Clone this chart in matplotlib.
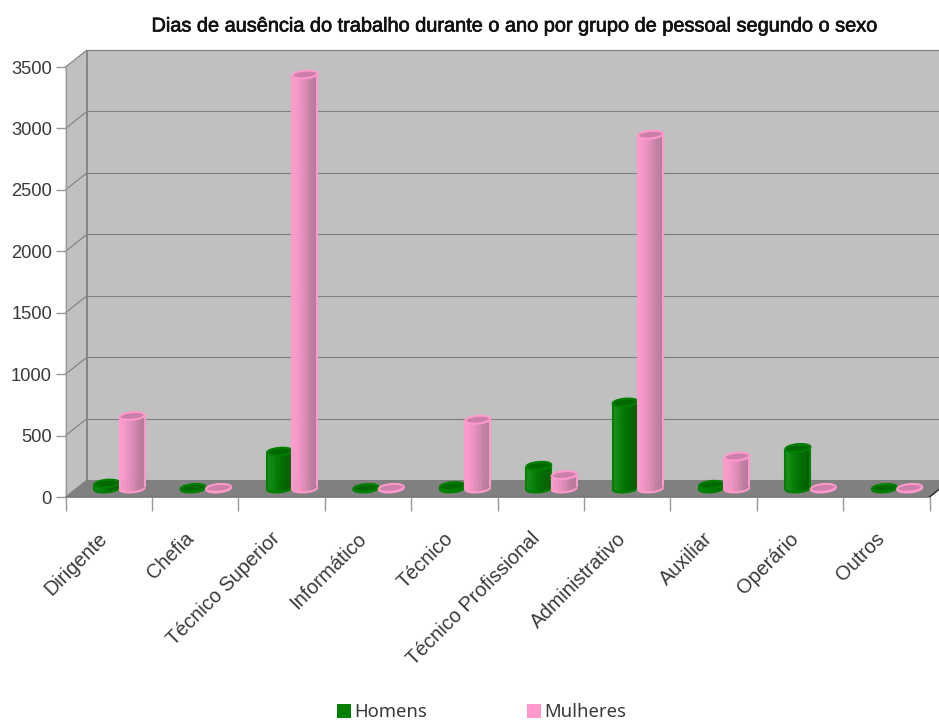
import numpy as np
import matplotlib
matplotlib.use("Agg")
import matplotlib.pyplot as plt
import matplotlib.patheffects as pe
from matplotlib.colors import to_rgb
from matplotlib.patches import Ellipse, Polygon, Rectangle
from matplotlib.transforms import IdentityTransform

categories = ["Dirigente", "Chefia", "Técnico Superior", "Informático", "Técnico",
              "Técnico Profissional", "Administrativo", "Auxiliar", "Operário", "Outros"]
homens = [40, 5, 300, 5, 20, 185, 700, 30, 330, 5]
mulheres = [590, 5, 3370, 5, 560, 110, 2880, 260, 5, 5]
y_ticks = [0, 500, 1000, 1500, 2000, 2500, 3000, 3500]

W, H = 939, 720
DEPTH_X, DEPTH_Y = 21.5, 17
GRID = "#808080"
TEXT = "#3a3a3a"

fig = plt.figure(figsize=(W / 100, H / 100), dpi=100)
ax = fig.add_axes([65.5 / W, 1 - 497 / H, 864 / W, 430 / H])
ax.set_xlim(0, len(categories))
ax.set_ylim(0, 3500)
for s in ax.spines.values():
    s.set_visible(False)
ax.patch.set_visible(False)
ident = IdentityTransform()


def to_px(x, y):
    return ax.transData.transform((x, y))


def add_shape(patch, z):
    patch.set_transform(ident)
    patch.set_clip_on(False)
    patch.set_zorder(z)
    ax.add_artist(patch)


def add_line(xs, ys, color=GRID, lw=1.0, z=2):
    ax.plot(xs, ys, color=color, lw=lw, transform=ident, clip_on=False,
            zorder=z, solid_capstyle="butt")


# walls and floor
x0, y0 = to_px(0, 0)
x1, y1 = to_px(len(categories), 3500)
add_shape(Polygon([(x0, y0), (x0 + DEPTH_X, y0 + DEPTH_Y), (x1 + DEPTH_X, y0 + DEPTH_Y),
                   (x1 + DEPTH_X, y1 + DEPTH_Y), (x0 + DEPTH_X, y1 + DEPTH_Y)],
                  facecolor="#c0c0c0", edgecolor="none"), 1)
add_shape(Polygon([(x0, y0), (x0 + DEPTH_X, y0 + DEPTH_Y), (x0 + DEPTH_X, y1 + DEPTH_Y), (x0, y1)],
                  facecolor="#c0c0c0", edgecolor="none"), 1)
add_shape(Polygon([(x0, y0), (x1, y0), (x1 + DEPTH_X, y0 + DEPTH_Y), (x0 + DEPTH_X, y0 + DEPTH_Y)],
                  facecolor="#808080", edgecolor="none"), 1)

for v in y_ticks:
    _, py = to_px(0, v)
    add_line([x0 + DEPTH_X, x1 + DEPTH_X], [py + DEPTH_Y, py + DEPTH_Y], lw=0.8)
    add_line([x0, x0 + DEPTH_X], [py, py + DEPTH_Y], lw=0.8)
add_line([x0, x0], [y0, y1], color="#999999", lw=0.9)
add_line([x0 + DEPTH_X, x0 + DEPTH_X], [y0 + DEPTH_Y, y1 + DEPTH_Y], lw=1.3)
add_line([x0, x1], [y0, y0], color="#777777", lw=1.2, z=3)
add_line([x1, x1 + DEPTH_X], [y0, y0 + DEPTH_Y], color="#222222", lw=1.0, z=3)


def shade(stops, u):
    rgb = np.array([to_rgb(c) for c in stops])
    pos = np.linspace(0, 1, len(stops))
    return tuple(np.interp(u, pos, rgb[:, i]) for i in range(3))


def draw_cylinder(center, value, stops, edge, top_fill, z):
    cx, base = to_px(center, 0)
    _, top = to_px(center, value)
    cx += DEPTH_X / 2
    base += DEPTH_Y / 2
    top += DEPTH_Y / 2
    a, b, tilt = 12.5, 3.8, np.radians(5)
    ts = np.linspace(np.pi, 2 * np.pi, 25)
    ex = a * np.cos(ts) * np.cos(tilt) - b * np.sin(ts) * np.sin(tilt)
    ey = a * np.cos(ts) * np.sin(tilt) + b * np.sin(ts) * np.cos(tilt)
    for i in range(len(ts) - 1):
        u = (ex[i] + ex[i + 1]) / (4 * a) + 0.5
        col = shade(stops, u)
        quad = [(cx + ex[i], base + ey[i]), (cx + ex[i + 1], base + ey[i + 1]),
                (cx + ex[i + 1], top + ey[i + 1]), (cx + ex[i], top + ey[i])]
        add_shape(Polygon(quad, facecolor=col, edgecolor=col, lw=0.4), z)
    add_line(cx + ex, base + ey, color=edge, lw=1.5, z=z + 0.1)
    add_line([cx + ex[0], cx + ex[0]], [base + ey[0], top + ey[0]], color=edge, lw=1.5, z=z + 0.1)
    add_line([cx + ex[-1], cx + ex[-1]], [base + ey[-1], top + ey[-1]], color=edge, lw=1.5, z=z + 0.1)
    add_shape(Ellipse((cx, top), 2 * a, 2 * b, angle=5, facecolor=top_fill, edgecolor=edge, lw=1.5),
              z + 0.2)


pink_stops = ["#ff9fd0", "#f596c6", "#e08cb8", "#c280a4", "#b47a9a"]
green_stops = ["#1a901a", "#0a840a", "#007400", "#006600", "#005c00"]
for i in range(len(categories)):
    draw_cylinder(i + 0.5 - 0.147, homens[i], green_stops, "#008000", "#006a00", 5 + i)
    draw_cylinder(i + 0.5 + 0.147, mulheres[i], pink_stops, "#ff99cc", "#cc7fa8", 5.5 + i)

ax.set_yticks(y_ticks)
ax.set_yticklabels([str(v) for v in y_ticks], fontsize=13.2, color=TEXT, family="Liberation Sans")
ax.set_xticks(np.arange(len(categories) + 1))
ax.set_xticklabels([""] * (len(categories) + 1))
ax.tick_params(axis="y", length=7, width=1, color="#999999", pad=2.8)
ax.tick_params(axis="x", length=10, width=1, color="#999999")

for i, name in enumerate(categories):
    ax.annotate(name, xy=(i + 0.5, 0), xytext=(-11, -32), textcoords="offset pixels",
                rotation=45, rotation_mode="anchor", ha="right", va="top",
                fontsize=14.4, color=TEXT, family="Liberation Sans")

title = fig.text(515 / W, 1 - 26 / H,
                 "Dias de ausência do trabalho durante o ano por grupo de pessoal segundo o sexo",
                 ha="center", va="center", fontsize=14.35, color="#111111",
                 family="Liberation Sans")
title.set_path_effects([pe.withStroke(linewidth=0.5, foreground="#111111")])

for lx, label, col in [(337, "Homens", "#008000"), (527, "Mulheres", "#ff99cc")]:
    fig.add_artist(Rectangle((lx / W, 1 - 718 / H), 14 / W, 14 / H, transform=fig.transFigure,
                             facecolor=col, edgecolor="none"))
    fig.text((lx + 17) / W, 1 - 712 / H, label, ha="left", va="center", fontsize=13.3,
             color=TEXT, family="Noto Sans")

fig.savefig("out.png", dpi=100)
